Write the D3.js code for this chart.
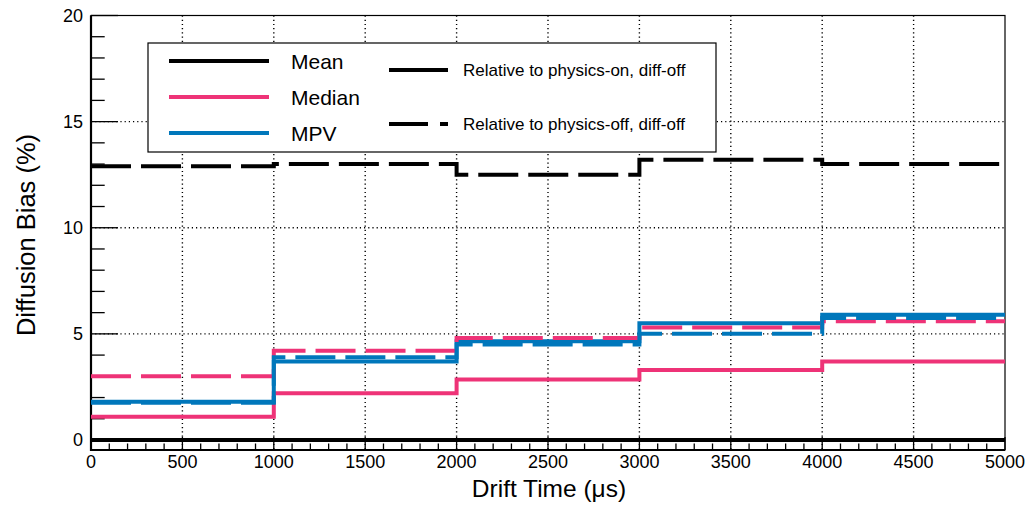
<!DOCTYPE html>
<html>
<head>
<meta charset="utf-8">
<script src="https://cdn.jsdelivr.net/npm/d3@7"></script>
<style>
html,body{margin:0;padding:0;background:#fff;}
text{font-family:"Liberation Sans",Arial,sans-serif;fill:#000;}
</style>
</head>
<body>
<svg id="chart" width="1027" height="510"></svg>
<script>
// ---- data ----
const binEdges = [0, 1000, 2000, 3000, 4000, 5000];
const meanOn    = [0, 0, 0, 0, 0];
const meanOff   = [12.9, 13.0, 12.5, 13.2, 13.0];
const medianOn  = [1.1, 2.2, 2.85, 3.3, 3.7];
const medianOff = [3.0, 4.2, 4.8, 5.3, 5.6];
const mpvOn     = [1.8, 3.7, 4.65, 5.5, 5.9];
const mpvOff    = [1.75, 3.9, 4.5, 5.0, 5.75];
const xTicks = [0, 500, 1000, 1500, 2000, 2500, 3000, 3500, 4000, 4500, 5000];
const yTicks = [0, 5, 10, 15, 20];
const legendStats = ["Mean", "Median", "MPV"];
const legendRefs = ["Relative to physics-on, diff-off", "Relative to physics-off, diff-off"];

const colors = {Mean: "#000000", Median: "#ee3377", MPV: "#0077bb"};

const svg = d3.select("#chart");
const L = 91, R = 1005, T = 15.5, B = 450;
const x = d3.scaleLinear().domain([0, 5000]).range([L, R]);
const y = d3.scaleLinear().domain([-0.5, 20]).range([B + 0.6, T]);

// grid
const g = svg.append("g");
g.selectAll(".gx").data(xTicks.filter(v => v > 0 && v < 5000)).enter().append("line")
  .attr("x1", d => x(d)).attr("x2", d => x(d)).attr("y1", T).attr("y2", B)
  .attr("stroke", "#000").attr("stroke-width", 1.4).attr("stroke-dasharray", "1.2 3");
g.selectAll(".gy").data(yTicks.filter(v => v > 0 && v < 20)).enter().append("line")
  .attr("x1", L).attr("x2", R).attr("y1", d => y(d)).attr("y2", d => y(d))
  .attr("stroke", "#000").attr("stroke-width", 1.4).attr("stroke-dasharray", "1.2 3");

// axes with inward ticks
const xMinor = d3.range(0, 5001, 100);
const yMinor = d3.range(0, 21, 1);
const axX = svg.append("g");
axX.selectAll("line").data(xMinor).enter().append("line")
  .attr("x1", d => x(d)).attr("x2", d => x(d))
  .attr("y1", B).attr("y2", d => B - (d % 500 === 0 ? 13 : 6.5))
  .attr("stroke", "#000").attr("stroke-width", 1.3);
axX.selectAll("text").data(xTicks).enter().append("text")
  .attr("x", d => x(d)).attr("y", 468).attr("text-anchor", "middle")
  .attr("font-size", 18).text(d => d3.format("d")(d));
const axY = svg.append("g");
axY.selectAll("line").data(yMinor).enter().append("line")
  .attr("y1", d => y(d)).attr("y2", d => y(d))
  .attr("x1", L).attr("x2", d => L + (d % 5 === 0 ? 27 : 13.7))
  .attr("stroke", "#000").attr("stroke-width", 1.3);
axY.selectAll("text").data(yTicks).enter().append("text")
  .attr("x", 83).attr("y", d => y(d) + 6.5).attr("text-anchor", "end")
  .attr("font-size", 18).text(d => d);

// frame
svg.append("rect").attr("x", L).attr("y", T).attr("width", R - L).attr("height", B - T)
  .attr("fill", "none").attr("stroke", "#000").attr("stroke-width", 1.2);
svg.append("line").attr("x1", L).attr("x2", L).attr("y1", T).attr("y2", B + 1)
  .attr("stroke", "#000").attr("stroke-width", 2.2);
svg.append("line").attr("x1", L).attr("x2", R).attr("y1", B).attr("y2", B)
  .attr("stroke", "#000").attr("stroke-width", 2.2);

// step lines
const line = d3.line().x(d => x(d[0])).y(d => y(d[1])).curve(d3.curveStepAfter);
function pts(vals) {
  const p = vals.map((v, i) => [binEdges[i], v]);
  p.push([binEdges[binEdges.length - 1], vals[vals.length - 1]]);
  return p;
}
const series = [
  {v: meanOn, c: colors.Mean, dash: null},
  {v: medianOn, c: colors.Median, dash: null},
  {v: mpvOn, c: colors.MPV, dash: null},
  {v: medianOff, c: colors.Median, dash: "40 10"},
  {v: mpvOff, c: colors.MPV, dash: "40 10"},
  {v: meanOff, c: colors.Mean, dash: "40 10"}
];
svg.append("g").selectAll("path").data(series).enter().append("path")
  .attr("d", d => line(pts(d.v)))
  .attr("fill", "none").attr("stroke", d => d.c).attr("stroke-width", 4)
  .attr("stroke-dasharray", d => d.dash);

// legend
const lg = svg.append("g");
lg.append("rect").attr("x", 148).attr("y", 43).attr("width", 568).attr("height", 109)
  .attr("fill", "#fff").attr("stroke", "#000").attr("stroke-width", 1.2);
const rowY = [61, 97, 133];
legendStats.forEach((s, i) => {
  lg.append("line").attr("x1", 169).attr("x2", 269).attr("y1", rowY[i]).attr("y2", rowY[i])
    .attr("stroke", colors[s]).attr("stroke-width", 4);
  lg.append("text").attr("x", 291).attr("y", rowY[i] + 7.5).attr("font-size", 21).text(s);
});
const refY = [70, 124];
legendRefs.forEach((s, i) => {
  lg.append("line").attr("x1", 389).attr("x2", 448).attr("y1", refY[i]).attr("y2", refY[i])
    .attr("stroke", "#000").attr("stroke-width", 4)
    .attr("stroke-dasharray", i === 1 ? "39 12" : null);
  lg.append("text").attr("x", 463).attr("y", refY[i] + 6).attr("font-size", 17).text(s);
});

// titles
svg.append("text").attr("x", 549).attr("y", 497).attr("text-anchor", "middle")
  .attr("font-size", 24.5).text("Drift Time (\u03bcs)");
svg.append("text").attr("transform", "translate(35,235) rotate(-90)")
  .attr("text-anchor", "middle").attr("font-size", 25.5).text("Diffusion Bias (%)");
</script>
</body>
</html>
